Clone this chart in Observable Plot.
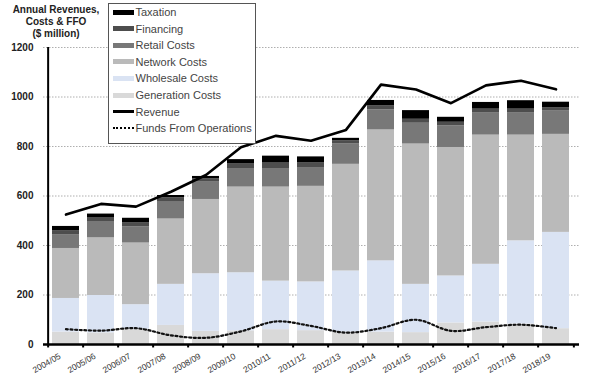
<!DOCTYPE html>
<html><head><meta charset="utf-8">
<script src="https://cdn.jsdelivr.net/npm/d3@7"></script>
<script src="https://cdn.jsdelivr.net/npm/@observablehq/plot@0.6"></script>
<style>
body{margin:0;background:#fff;font-family:"Liberation Sans",Arial,sans-serif;}
#wrap{position:relative;width:590px;height:386px;overflow:hidden;}
#title{position:absolute;left:0;top:4px;width:112px;text-align:center;font-size:10px;font-weight:bold;line-height:12px;color:#222;}
#legend{position:absolute;left:108px;top:3px;width:146px;height:139px;border:1.5px solid #555;background:#fff;box-sizing:content-box;}
.item{position:absolute;left:3.5px;height:16px;display:flex;align-items:center;font-size:11px;color:#444;white-space:nowrap;}
.sw{width:21px;margin-right:2px;}
</style></head><body>
<div id="wrap"></div>
<script>
const years = ["2004/05","2005/06","2006/07","2007/08","2008/09","2009/10","2010/11","2011/12","2012/13","2013/14","2014/15","2015/16","2016/17","2017/18","2018/19"];
const generation = [50,47,62,77,53,55,60,56,50,50,48,87,91,83,64];
const wholesale  = [136,151,99,166,233,235,196,197,247,288,195,190,233,336,389];
const network    = [202,233,249,264,300,346,380,386,431,529,567,519,522,427,396];
const retail     = [56,66,66,68,70,75,75,76,82,81,84,87,91,91,96];
const financing  = [16,16,15,18,14,20,22,20,13,16,16,15,14,14,12];
const taxation   = [17,14,19,9,9,16,28,23,10,22,35,20,27,34,22];
const revenue    = [525,568,557,617,685,797,843,823,867,1050,1030,975,1047,1066,1031];
const ffo        = [62,56,66,37,27,53,93,75,48,66,100,55,70,80,66];
const yTicks = [0,200,400,600,800,1000,1200];
const seriesNames = ["Generation Costs","Wholesale Costs","Network Costs","Retail Costs","Financing","Taxation"];
const seriesValues = [generation, wholesale, network, retail, financing, taxation];
const seriesColors = ["#d9d9d9","#dae3f3","#bababa","#787878","#4d4d4d","#000000"];
const titleLines = ["Annual Revenues,","Costs & FFO","($ million)"];
const legendLabels = ["Taxation","Financing","Retail Costs","Network Costs","Wholesale Costs","Generation Costs","Revenue","Funds From Operations"];

const rows = [];
seriesNames.forEach((s, k) => years.forEach((yr, i) => rows.push({year: yr, series: s, value: seriesValues[k][i]})));
const lineRows = years.map((yr, i) => ({year: yr, revenue: revenue[i], ffo: ffo[i]}));

const W = 590, H = 386, ML = 43, MR = 11, MT = 47, MB = 42;
const step = (W - ML - MR) / years.length;

const chart = Plot.plot({
  width: W, height: H, marginLeft: ML, marginRight: MR, marginTop: MT, marginBottom: MB,
  style: {fontFamily: "'Liberation Sans', Arial, sans-serif", background: "white", overflow: "visible"},
  x: {domain: years, paddingInner: 0.22, paddingOuter: 0.11, label: null},
  y: {domain: [0, 1200], label: null},
  color: {domain: seriesNames, range: seriesColors},
  marks: [
    Plot.ruleY(yTicks.slice(1), {stroke: "#9a9a9a", strokeWidth: 0.8, strokeDasharray: "1.5,1.5"}),
    Plot.barY(rows, {x: "year", y: "value", fill: "series", z: "series"}),
    Plot.line(lineRows, {x: "year", y: "revenue", stroke: "#000", strokeWidth: 2.6}),
    Plot.line(lineRows, {x: "year", y: "ffo", stroke: "#111", strokeWidth: 2.2, strokeDasharray: "2,2.6", curve: "catmull-rom"}),
    Plot.ruleY([0], {stroke: "#000", strokeWidth: 2.4}),
    Plot.ruleX(years, {x: d => d, dx: -step / 2, y1: 0, y2: -14, stroke: "#000", strokeWidth: 2}),
    Plot.ruleX([years[years.length - 1]], {x: d => d, dx: step / 2, y1: 0, y2: -14, stroke: "#000", strokeWidth: 2}),
    Plot.ruleX([years[0]], {x: d => d, dx: -step / 2, y1: 0, y2: 1200, stroke: "#000", strokeWidth: 2}),
    Plot.axisY({ticks: yTicks, tickFormat: d => String(d), tickSize: 0, tickPadding: 10, fontWeight: "bold", fontSize: 10, fill: "#222", label: null}),
    Plot.axisX({tickRotate: -30, tickSize: 0, tickPadding: 14, dx: -6, dy: -3, fontSize: 8.5, fill: "#333", label: null})
  ]
});

const wrap = document.getElementById("wrap");
wrap.appendChild(chart);

const title = document.createElement("div");
title.id = "title";
title.innerHTML = titleLines.join("<br>");
wrap.appendChild(title);

const legend = document.createElement("div");
legend.id = "legend";
const legendColors = {"Taxation": seriesColors[5], "Financing": seriesColors[4], "Retail Costs": seriesColors[3], "Network Costs": seriesColors[2], "Wholesale Costs": seriesColors[1], "Generation Costs": seriesColors[0]};
legendLabels.forEach((lab, i) => {
  const it = document.createElement("div");
  it.className = "item";
  it.style.top = (0.2 + i * 16.57) + "px";
  const sw = document.createElement("div");
  sw.className = "sw";
  if (lab === "Revenue") { sw.style.height = "3px"; sw.style.background = "#000"; }
  else if (lab === "Funds From Operations") { sw.style.height = "0px"; sw.style.borderTop = "2px dotted #000"; }
  else { sw.style.height = "5px"; sw.style.background = legendColors[lab]; }
  it.appendChild(sw);
  const t = document.createElement("span");
  t.textContent = lab;
  it.appendChild(t);
  legend.appendChild(it);
});
wrap.appendChild(legend);
</script>
</body></html>
